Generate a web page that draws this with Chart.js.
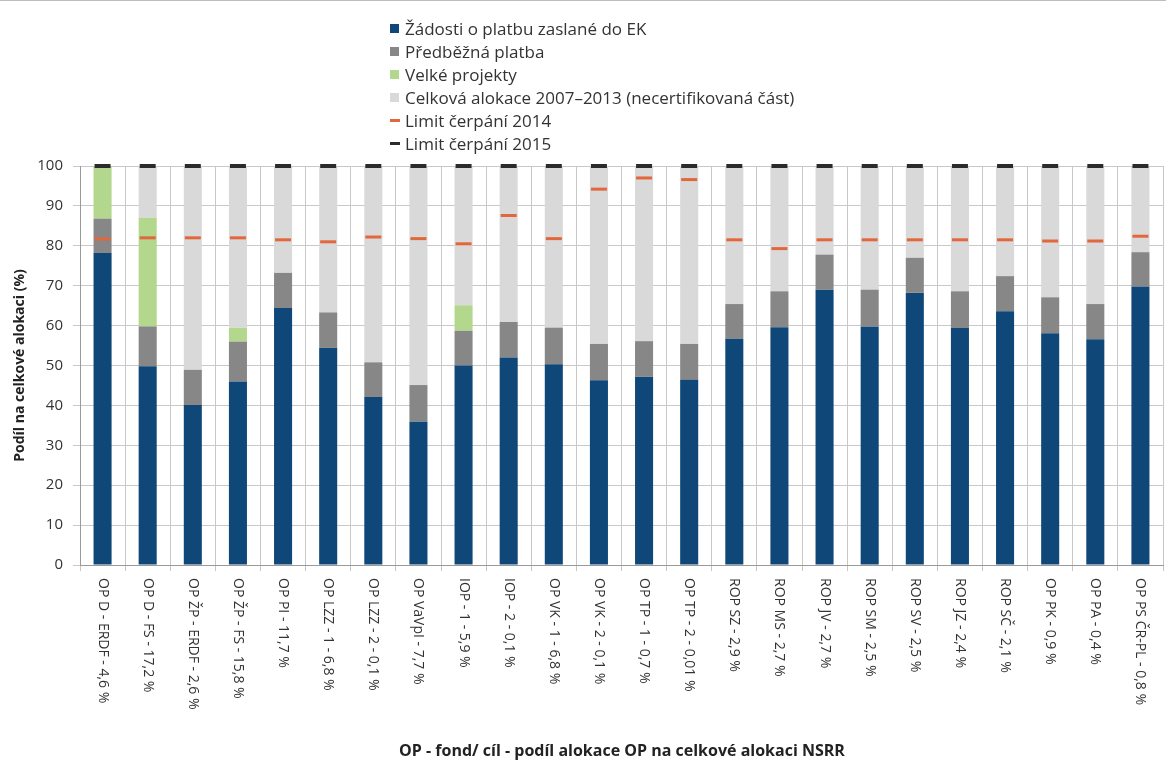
<!DOCTYPE html>
<html lang="cs">
<head>
<meta charset="utf-8">
<title>Čerpání OP</title>
<script src="https://cdn.jsdelivr.net/npm/chart.js@4.4.1/dist/chart.umd.min.js"></script>
<style>
  html, body { margin: 0; padding: 0; background: #fff; }
  #wrap { position: relative; width: 1166px; height: 762px; border-top: 1px solid #bdbdbd; box-sizing: border-box; }
  #chart { position: absolute; left: 0; top: 0; }
  #legend { position: absolute; left: 390px; top: 16px; margin: 0; padding: 0; list-style: none;
    font-family: "Open Sans", "Liberation Sans", sans-serif; font-size: 17px; color: #333; }
  #legend li { height: 23px; line-height: 23px; display: flex; align-items: center; }
  #legend .box { width: 9px; height: 9px; margin-right: 6px; }
  #legend .dash { width: 10px; height: 3px; margin-right: 5px; }
</style>
</head>
<body>
<div id="wrap">
  <canvas id="chart" width="1166" height="762"></canvas>
  <ul id="legend"></ul>
</div>
<script>
// Categories (OP - fond/cil - share of allocation)
const categories = [
  'OP D - ERDF - 4,6 %', 'OP D - FS - 17,2 %', 'OP ŽP - ERDF - 2,6 %', 'OP ŽP - FS - 15,8 %',
  'OP PI - 11,7 %', 'OP LZZ - 1 - 6,8 %', 'OP LZZ - 2 - 0,1 %', 'OP VaVpI - 7,7 %',
  'IOP - 1 - 5,9 %', 'IOP - 2 - 0,1 %', 'OP VK - 1 - 6,8 %', 'OP VK - 2 - 0,1 %',
  'OP TP - 1 - 0,7 %', 'OP TP - 2 - 0,01 %', 'ROP SZ - 2,9 %', 'ROP MS - 2,7 %',
  'ROP JV - 2,7 %', 'ROP SM - 2,5 %', 'ROP SV - 2,5 %', 'ROP JZ - 2,4 %',
  'ROP SČ - 2,1 %', 'OP PK - 0,9 %', 'OP PA - 0,4 %', 'OP PS ČR-PL - 0,8 %'
];

// Stacked segments (% of total allocation)
const zadosti = [78.2, 49.8, 40.1, 46.0, 64.4, 54.4, 42.1, 35.9, 50.0, 52.0, 50.3, 46.3,
  47.2, 46.4, 56.7, 59.6, 69.0, 59.8, 68.2, 59.4, 63.6, 58.1, 56.6, 69.8];
const predbezna = [8.6, 10.0, 8.8, 10.0, 8.8, 8.9, 8.7, 9.2, 8.7, 8.9, 9.2, 9.1,
  8.9, 9.0, 8.7, 9.0, 8.8, 9.2, 8.8, 9.2, 8.8, 9.0, 8.8, 8.6];
const velkeProjekty = [13.2, 27.2, 0, 3.5, 0, 0, 0, 0, 6.4, 0, 0, 0,
  0, 0, 0, 0, 0, 0, 0, 0, 0, 0, 0, 0];

// Limits
const limit2014 = [81.7, 82.0, 82.0, 82.0, 81.5, 81.0, 82.2, 81.8, 80.5, 87.6, 81.8, 94.2,
  97.0, 96.6, 81.5, 79.3, 81.5, 81.5, 81.5, 81.5, 81.5, 81.2, 81.2, 82.4];
const limit2015 = [100, 100, 100, 100, 100, 100, 100, 100, 100, 100, 100, 100,
  100, 100, 100, 100, 100, 100, 100, 100, 100, 100, 100, 100];

// Remaining (uncertified) part of the allocation
const necertifikovano = categories.map((_, i) =>
  Math.max(0, +(100 - zadosti[i] - predbezna[i] - velkeProjekty[i]).toFixed(2)));

const colors = {
  zadosti: '#0f4878',
  predbezna: '#878787',
  velke: '#b2d78d',
  celkova: '#d9d9d9',
  limit14: '#e2673d',
  limit15: '#2b2b2b'
};

const FONT = '"Open Sans", "Liberation Sans", sans-serif';

// HTML legend, one item per row
const legendItems = [
  { text: 'Žádosti o platbu zaslané do EK', color: colors.zadosti, kind: 'box' },
  { text: 'Předběžná platba', color: colors.predbezna, kind: 'box' },
  { text: 'Velké projekty', color: colors.velke, kind: 'box' },
  { text: 'Celková alokace 2007–2013 (necertifikovaná část)', color: colors.celkova, kind: 'box' },
  { text: 'Limit čerpání 2014', color: colors.limit14, kind: 'dash' },
  { text: 'Limit čerpání 2015', color: colors.limit15, kind: 'dash' }
];
const legendEl = document.getElementById('legend');
legendItems.forEach(item => {
  const li = document.createElement('li');
  const mark = document.createElement('span');
  mark.className = item.kind;
  mark.style.background = item.color;
  li.appendChild(mark);
  li.appendChild(document.createTextNode(item.text));
  legendEl.appendChild(li);
});

// Draws the x labels rotated clockwise (reading top to bottom) and the x axis title
const xLabelsPlugin = {
  id: 'xLabels',
  afterDraw(chart) {
    const ctx = chart.ctx;
    const xs = chart.scales.x;
    const area = chart.chartArea;
    ctx.save();
    ctx.fillStyle = '#333';
    ctx.font = '14px ' + FONT;
    ctx.textAlign = 'left';
    ctx.textBaseline = 'middle';
    categories.forEach((label, i) => {
      const x = xs.getPixelForValue(i);
      ctx.save();
      ctx.translate(x, area.bottom + 13);
      ctx.rotate(Math.PI / 2);
      ctx.fillText(label, 0, 0);
      ctx.restore();
    });
    ctx.font = 'bold 16px ' + FONT;
    ctx.textAlign = 'center';
    ctx.fillStyle = '#222';
    ctx.fillText('OP - fond/ cíl - podíl alokace OP na celkové alokaci NSRR', 622, 750);
    ctx.restore();
  }
};

new Chart(document.getElementById('chart'), {
  type: 'bar',
  data: {
    labels: categories,
    datasets: [
      { label: 'Žádosti o platbu zaslané do EK', data: zadosti, backgroundColor: colors.zadosti, stack: 'bars', order: 2 },
      { label: 'Předběžná platba', data: predbezna, backgroundColor: colors.predbezna, stack: 'bars', order: 2 },
      { label: 'Velké projekty', data: velkeProjekty, backgroundColor: colors.velke, stack: 'bars', order: 2 },
      { label: 'Celková alokace 2007–2013 (necertifikovaná část)', data: necertifikovano, backgroundColor: colors.celkova, stack: 'bars', order: 2 },
      {
        type: 'line', label: 'Limit čerpání 2014', data: limit2014, stack: 'l14', order: 1,
        showLine: false, pointStyle: 'line', pointRadius: 8, pointBorderWidth: 3,
        pointBorderColor: colors.limit14, borderColor: colors.limit14, clip: false
      },
      {
        type: 'line', label: 'Limit čerpání 2015', data: limit2015, stack: 'l15', order: 0,
        showLine: false, pointStyle: 'line', pointRadius: 8, pointBorderWidth: 4,
        pointBorderColor: colors.limit15, borderColor: colors.limit15, clip: false
      }
    ]
  },
  options: {
    responsive: false,
    animation: false,
    layout: { autoPadding: false, padding: { top: 165, bottom: 192, left: 0, right: 3 } },
    datasets: { bar: { categoryPercentage: 1, barPercentage: 0.4 } },
    plugins: {
      legend: { display: false },
      tooltip: { enabled: false }
    },
    scales: {
      x: {
        stacked: true,
        offset: true,
        ticks: { display: false },
        grid: { offset: true, color: '#c8c8c8', tickLength: 6 },
        border: { color: '#9a9a9a' }
      },
      y: {
        stacked: true,
        min: 0,
        max: 100,
        afterFit(scale) { scale.width = 80; },
        ticks: { stepSize: 10, color: '#333', font: { family: FONT, size: 15 }, padding: 10 },
        grid: { color: '#c8c8c8', tickLength: 7 },
        border: { color: '#9a9a9a' },
        title: {
          display: true,
          text: 'Podíl na celkové alokaci (%)',
          color: '#222',
          font: { family: FONT, size: 14, weight: 'bold' },
          padding: { top: 12, bottom: 0 }
        }
      }
    }
  },
  plugins: [xLabelsPlugin]
});
</script>
</body>
</html>
